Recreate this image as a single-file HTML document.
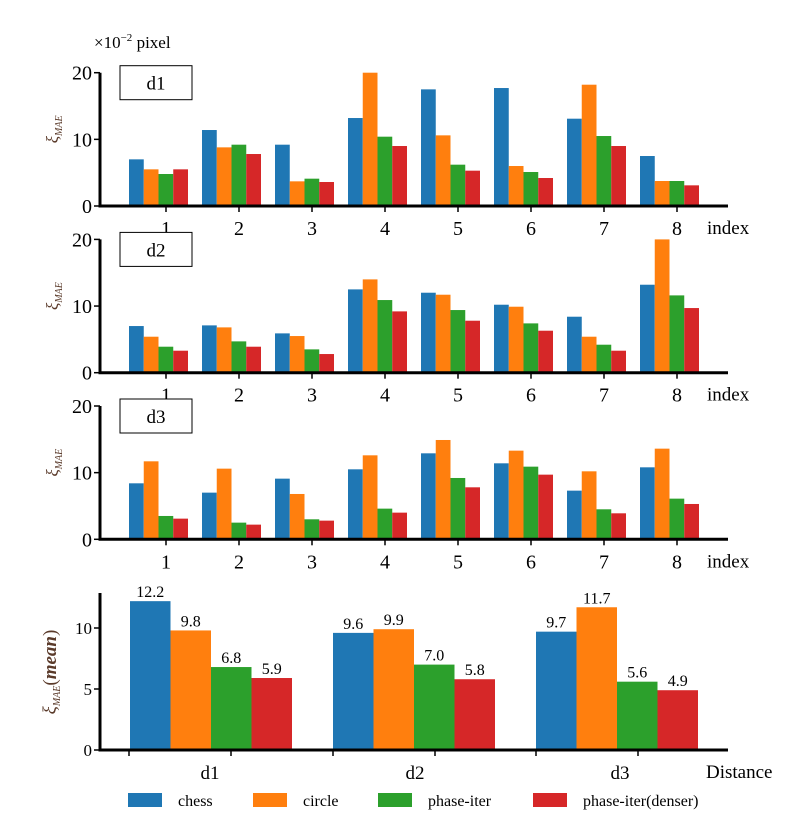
<!DOCTYPE html>
<html><head><meta charset="utf-8">
<style>
html,body{margin:0;padding:0;background:#fff;}
svg{display:block;font-family:"Liberation Serif",serif;}
</style></head>
<body>
<svg id="chart" width="808" height="814" viewBox="0 0 808 814" xmlns="http://www.w3.org/2000/svg">
<text x="94" y="48" font-size="17">×10<tspan dy="-7" font-size="11">−2</tspan><tspan dy="7"> pixel</tspan></text>
</svg>
<script>
const seriesNames = ["chess","circle","phase-iter","phase-iter(denser)"];
const colors = ["#1f77b4","#ff7f0e","#2ca02c","#d62728"];
const indexLabels = ["1","2","3","4","5","6","7","8"];
const panelNames = ["d1","d2","d3"];
const topTicks = [0,10,20];
const d1Chess = [7.0,11.4,9.2,13.2,17.5,17.7,13.1,7.5];
const d1Circle = [5.5,8.8,3.7,20.0,10.6,6.0,18.2,3.75];
const d1Phase = [4.8,9.2,4.1,10.4,6.2,5.1,10.5,3.75];
const d1Dense = [5.5,7.8,3.6,9.0,5.3,4.2,9.0,3.1];
const d2Chess = [7.0,7.1,5.9,12.5,12.0,10.2,8.4,13.2];
const d2Circle = [5.4,6.8,5.5,14.0,11.7,9.9,5.4,20.0];
const d2Phase = [3.9,4.7,3.5,10.9,9.4,7.4,4.2,11.6];
const d2Dense = [3.3,3.9,2.8,9.2,7.8,6.3,3.3,9.7];
const d3Chess = [8.4,7.0,9.1,10.5,12.9,11.4,7.3,10.8];
const d3Circle = [11.7,10.6,6.8,12.6,14.9,13.3,10.2,13.6];
const d3Phase = [3.5,2.5,3.0,4.6,9.2,10.9,4.5,6.1];
const d3Dense = [3.1,2.2,2.8,4.0,7.8,9.7,3.9,5.3];
const meanCats = ["d1","d2","d3"];
const meanChess = [12.2,9.6,9.7];
const meanCircle = [9.8,9.9,11.7];
const meanPhase = [6.8,7.0,5.6];
const meanDense = [5.9,5.8,4.9];
const meanTicks = [0,5,10];

const svg = document.getElementById('chart');
const NS = "http://www.w3.org/2000/svg";
function mk(tag, attrs, text){
  const e = document.createElementNS(NS, tag);
  for (const k in attrs) e.setAttribute(k, attrs[k]);
  if (text !== undefined) e.textContent = text;
  svg.appendChild(e);
  return e;
}

const panels = [
  {y0:206, data:[d1Chess,d1Circle,d1Phase,d1Dense]},
  {y0:372.7, data:[d2Chess,d2Circle,d2Phase,d2Dense]},
  {y0:539.3, data:[d3Chess,d3Circle,d3Phase,d3Dense]}
];
const axL = 100, axR = 728, pxPerUnit = 133.3/20;
panels.forEach((p, pi) => {
  const yS = v => p.y0 - v * pxPerUnit;
  const xG = i => 129 + 73 * i;
  const bw = 14.75;
  p.data.forEach((arr, si) => {
    arr.forEach((v, i) => {
      const r = mk('rect', {x: xG(i) + si*bw, y: yS(v), width: bw, height: v*pxPerUnit, fill: colors[si]});
      
      
    });
  });
  const ya = mk('line', {x1: axL, y1: yS(20), x2: axL, y2: p.y0, stroke: '#000', 'stroke-width': 3});
  
  
  const xa = mk('line', {x1: axL-1.5, y1: p.y0, x2: axR, y2: p.y0, stroke: '#000', 'stroke-width': 3});
  
  
  topTicks.forEach(t => {
    mk('line', {x1: axL-6, y1: yS(t), x2: axL, y2: yS(t), stroke: '#000', 'stroke-width': 1.5});
    const tl = mk('text', {x: axL-8, y: yS(t)+7, 'font-size': 20, 'text-anchor': 'end'}, String(t));
    
    
  });
  indexLabels.forEach((l, i) => {
    const tx = 166 + 73 * i;
    mk('line', {x1: tx, y1: p.y0, x2: tx, y2: p.y0+6, stroke: '#000', 'stroke-width': 1.5});
    const tl = mk('text', {x: tx, y: p.y0+29, 'font-size': 20, 'text-anchor': 'middle'}, l);
    
    
  });
  const il = mk('text', {x: 707, y: p.y0+28, 'font-size': 19}, 'index');
  
  
  const bx = mk('rect', {x: 120, y: yS(20)-7, width: 72, height: 34, fill: '#fff', stroke: '#000', 'stroke-width': 1});
  
  
  const bt = mk('text', {x: 156, y: yS(20)+17, 'font-size': 19, 'text-anchor': 'middle'}, panelNames[pi]);
  
  
  const yl = mk('text', {x: 0, y: 0, 'font-size': 17, 'font-style': 'italic', fill: '#5a3a2a', transform: 'translate(58,' + (yS(10)-10) + ') rotate(-90)', 'text-anchor': 'middle'});
  yl.innerHTML = 'ξ<tspan font-size="10" dy="4">MAE</tspan>';
  
  
});

// mean panel
const m0 = 750, mU = 12.2;
const ym = v => m0 - v * mU;
const meanData = [meanChess, meanCircle, meanPhase, meanDense];
meanData.forEach((arr, si) => {
  arr.forEach((v, i) => {
    const x = 130 + 203 * i + si * 40.5;
    const r = mk('rect', {x: x, y: ym(v), width: 40.5, height: v*mU, fill: colors[si]});
    
    
    const t = mk('text', {x: x+20.25, y: ym(v)-4, 'font-size': 16, 'text-anchor': 'middle'}, v.toFixed(1));
    
    
  });
});
const mya = mk('line', {x1: axL, y1: 593, x2: axL, y2: m0, stroke: '#000', 'stroke-width': 3});


const mxa = mk('line', {x1: axL-1.5, y1: m0, x2: axR, y2: m0, stroke: '#000', 'stroke-width': 3});


meanTicks.forEach(t => {
  mk('line', {x1: axL-6, y1: ym(t), x2: axL, y2: ym(t), stroke: '#000', 'stroke-width': 1.5});
  const tl = mk('text', {x: axL-8, y: ym(t)+6, 'font-size': 17, 'text-anchor': 'end'}, String(t));
  
  
});
[129,231,333,435,536,638].forEach(tx => {
  mk('line', {x1: tx, y1: m0, x2: tx, y2: m0+6, stroke: '#000', 'stroke-width': 1.5});
});
meanCats.forEach((c, i) => {
  const tl = mk('text', {x: 210 + 205 * i, y: m0+29, 'font-size': 19, 'text-anchor': 'middle'}, c);
  
  
});
const dl = mk('text', {x: 706, y: m0+28, 'font-size': 19}, 'Distance');


const myl = mk('text', {x: 0, y: 0, 'font-size': 19, 'font-style': 'italic', fill: '#5a3a2a', transform: 'translate(56,672) rotate(-90)', 'text-anchor': 'middle'});
myl.innerHTML = 'ξ<tspan font-size="10" dy="4">MAE</tspan><tspan dy="-4" font-style="normal">(</tspan><tspan font-weight="bold">mean</tspan><tspan font-style="normal">)</tspan>';



// legend
const legX = [128, 253, 378, 533];
seriesNames.forEach((n, i) => {
  const r = mk('rect', {x: legX[i], y: 793, width: 34, height: 14, fill: colors[i]});
  
  
  const t = mk('text', {x: legX[i] + 50, y: 806, 'font-size': 16}, n);
  
  
});
</script>
</body></html>
